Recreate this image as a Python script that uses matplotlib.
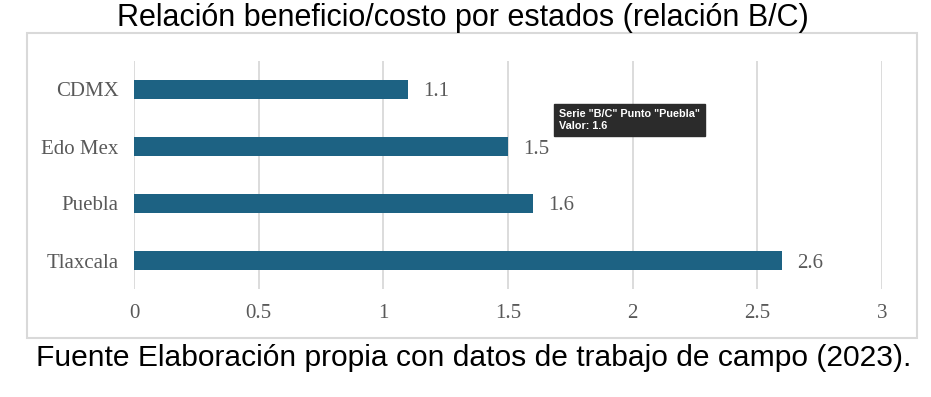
import matplotlib
matplotlib.use("Agg")
import matplotlib.pyplot as plt
from matplotlib.patches import Rectangle

states = ["CDMX", "Edo Mex", "Puebla", "Tlaxcala"]
bc_values = [1.1, 1.5, 1.6, 2.6]
x_ticks = [0, 0.5, 1, 1.5, 2, 2.5, 3]
x_tick_labels = ["0", "0.5", "1", "1.5", "2", "2.5", "3"]

title = "Relación beneficio/costo por estados (relación B/C)"
caption = "Fuente Elaboración propia con datos de trabajo de campo (2023)."
tooltip = 'Serie "B/C" Punto "Puebla"\nValor: 1.6'

bar_color = "#1d6283"
grid_color = "#d9d9d9"
text_color = "#595959"
serif = ["Liberation Serif", "DejaVu Serif"]
sans = ["Liberation Sans", "DejaVu Sans"]

fig = plt.figure(figsize=(9.31, 3.97), dpi=100)
fig.patch.set_facecolor("white")

# outer chart frame
fig.add_artist(Rectangle((27/931, 1-338/397), (917-27)/931, (338-33)/397,
                         transform=fig.transFigure, fill=False,
                         edgecolor="#d9d9d9", linewidth=1.5))

ax = fig.add_axes([134/931, 1-289/397, (882-134)/931, (289-61)/397])
y = list(range(len(states)))
ax.barh(y, bc_values, height=0.32, color=bar_color, zorder=3)
ax.set_xlim(0, 3)
ax.set_ylim(len(states)-0.5, -0.5)
ax.set_xticks(x_ticks)
ax.set_xticklabels(x_tick_labels, fontfamily=serif, fontsize=15, color=text_color)
ax.set_yticks(y)
ax.set_yticklabels(states, fontfamily=serif, fontsize=15, color=text_color)
ax.tick_params(length=0, pad=11, axis="y")
ax.tick_params(length=0, pad=11, axis="x")
ax.grid(axis="x", color=grid_color, linewidth=1.3, zorder=0)
for s in ax.spines.values():
    s.set_visible(False)

for yi, v in zip(y, bc_values):
    ax.text(v + 0.06, yi, f"{v}", va="center_baseline", ha="left",
            fontfamily=serif, fontsize=15, color=text_color, zorder=4)

fig.text(463/931, 1-18/397, title, ha="center", va="center",
         fontfamily=sans, fontsize=22, color="black")
fig.text(474/931, 1-358/397, caption, ha="center", va="center",
         fontfamily=sans, fontsize=21.6, color="black")

fig.text(559/931, 1-120/397, tooltip, ha="left", va="center",
         fontfamily=sans, fontsize=7.8, fontweight="bold", color="white",
         linespacing=1.25,
         bbox=dict(boxstyle="square,pad=0.5", facecolor="#2b2b2b",
                   edgecolor="#2b2b2b"))

fig.savefig("out.png", dpi=100, facecolor="white")
